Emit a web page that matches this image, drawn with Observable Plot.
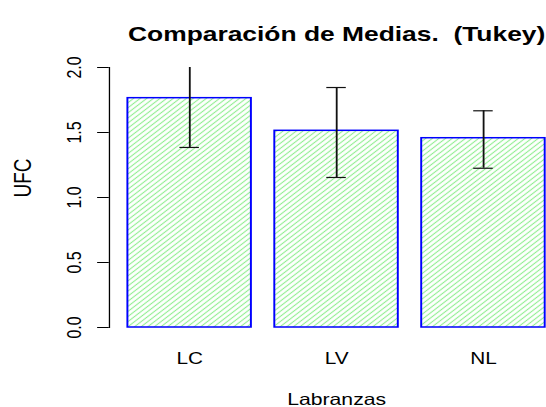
<!DOCTYPE html>
<html>
<head>
<meta charset="utf-8">
<script src="https://cdn.jsdelivr.net/npm/d3@7"></script>
<script src="https://cdn.jsdelivr.net/npm/@observablehq/plot@0.6"></script>
<style>
  html, body { margin: 0; padding: 0; background: #fff; }
  svg text { white-space: pre; }
</style>
</head>
<body>
<div id="chart"></div>
<script>
// ---- data ----
const categories = ["LC", "LV", "NL"];
const means = [1.764, 1.513, 1.456];
const lower = [1.385, 1.154, 1.225];
const upper = [2.143, 1.846, 1.667];
const yTicks = [0, 0.5, 1, 1.5, 2];
const titleText = "Comparación de Medias.  (Tukey)";
const xLabel = "Labranzas";
const yLabel = "UFC";

const data = categories.map((c, i) => ({cat: c, mean: means[i], lo: lower[i], hi: upper[i]}));

// The reference image is stretched horizontally (~1.3x); draw in a narrower
// logical space and stretch the svg to the window width.
const K = 1.3;
const W = 546, H = 407;
const LW = W / K;

const hatchDefs = () => {
  const defs = d3.create("svg:defs");
  const p = defs.append("pattern")
    .attr("id", "hatch")
    .attr("patternUnits", "userSpaceOnUse")
    .attr("width", 3.6).attr("height", 3.6)
    .attr("patternTransform", "rotate(-45)");
  p.append("line")
    .attr("x1", -1).attr("x2", 5).attr("y1", 1.8).attr("y2", 1.8)
    .attr("stroke", "#90ee90").attr("stroke-width", 1);
  return defs.node();
};

const svg = Plot.plot({
  width: LW,
  height: H,
  marginLeft: 96.9,
  marginRight: 0,
  marginTop: 67,
  marginBottom: 80,
  style: {fontFamily: "'Liberation Sans', Arial, sans-serif", fontSize: "16px", background: "#fff", color: "#000"},
  x: {domain: categories, paddingInner: 0.162, paddingOuter: 0, align: 0.5},
  y: {domain: [0, 2]},
  marks: [
    hatchDefs,
    Plot.barY(data, {x: "cat", y: "mean", fill: "url(#hatch)", stroke: "blue", strokeWidth: 1.5}),
    Plot.ruleX(data, {x: "cat", y1: "lo", y2: "hi", stroke: "#111", strokeWidth: 1.4, clip: true}),
    Plot.tickY(data, {x: "cat", y: "lo", stroke: "#111", strokeWidth: 1.2, insetLeft: 40, insetRight: 40, clip: true}),
    Plot.tickY(data, {x: "cat", y: "hi", stroke: "#111", strokeWidth: 1.2, insetLeft: 40, insetRight: 40, clip: true}),
    Plot.frame({anchor: "left", dx: -13.2, stroke: "#000", strokeOpacity: 1}),
    Plot.axisY({ticks: yTicks, tickFormat: d3.format(".1f"), tickSize: 9, tickPadding: 13, dx: -13.2,
                tickRotate: -90, fontSize: 16, label: null, stroke: "#000", fill: "#000", strokeOpacity: 1}),
    Plot.axisX({tickSize: 0, tickPadding: 25.6, fontSize: 16, label: null, fill: "#000"}),
    Plot.text([titleText], {frameAnchor: "top", dy: -41, fontSize: 20.3, fontWeight: "bold", fill: "#000"}),
    Plot.text([xLabel], {frameAnchor: "bottom", dy: 77, lineAnchor: "bottom", fontSize: 16.3, fill: "#000"}),
    Plot.text([yLabel], {frameAnchor: "left", dx: -80, rotate: -90, fontSize: 19, fill: "#000"})
  ]
});

svg.setAttribute("width", W);
svg.setAttribute("height", H);
svg.setAttribute("viewBox", `0 0 ${LW} ${H}`);
svg.setAttribute("preserveAspectRatio", "none");
svg.style.width = W + "px";
svg.style.height = H + "px";
svg.style.maxWidth = "none";
svg.style.display = "block";
document.getElementById("chart").appendChild(svg);
</script>
</body>
</html>
